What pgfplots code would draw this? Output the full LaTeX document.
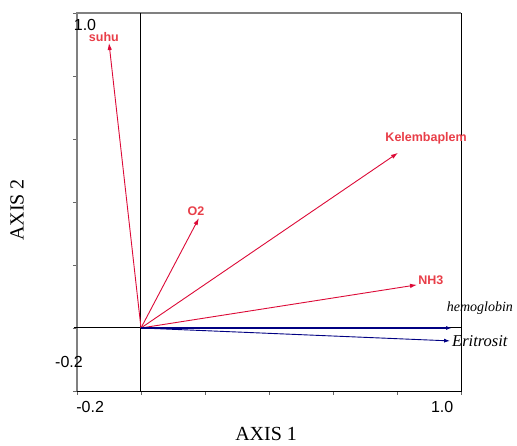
\documentclass[border=0pt]{standalone}
\usepackage{pgfplots}
\pgfplotsset{compat=1.18}
\usepackage{fontspec}
\setmainfont{Liberation Serif}
\setsansfont{Liberation Sans}
\usetikzlibrary{arrows.meta}

\definecolor{vecred}{RGB}{220,10,55}
\definecolor{labred}{RGB}{232,62,72}
\definecolor{vecblue}{RGB}{0,0,130}

\begin{document}
\begin{tikzpicture}
\useasboundingbox (-77pt,-55pt) rectangle (440pt,391pt);
\begin{axis}[
  at={(0,0)}, anchor=south west,
  scale only axis, width=384pt, height=378pt,
  xmin=-0.2, xmax=1.0, ymin=-0.2, ymax=1.0,
  xtick={-0.2,0,0.2,0.4,0.6,0.8,1.0},
  ytick={-0.2,0,0.2,0.4,0.6,0.8,1.0},
  xticklabels={}, yticklabels={},
  xtick pos=bottom, ytick pos=left,
  tick align=outside, major tick length=4pt,
  tick style={black!60, line width=0.8pt},
  axis line style={draw=none},
  clip=false,
]
  % frame
  \draw[black!50, line width=2.8pt] (rel axis cs:0,0) -- (rel axis cs:0,1) -- (rel axis cs:1,1);
  \draw[black, line width=0.8pt] (rel axis cs:0,0) -- (rel axis cs:1,0) -- (rel axis cs:1,1);
  % zero lines
  \draw[black, line width=1pt] (axis cs:-0.21,0) -- (axis cs:1.0,0);
  \draw[black, line width=1pt] (axis cs:0,-0.2) -- (axis cs:0,1.0);

  % environmental vectors
  \addplot[vecred, line width=0.9pt, -{Latex[length=7pt,width=4.5pt]}] coordinates {(0,0) (-0.100,0.905)};
  \addplot[vecred, line width=0.9pt, -{Latex[length=7pt,width=4.5pt]}] coordinates {(0,0) (0.181,0.349)};
  \addplot[vecred, line width=0.9pt, -{Latex[length=7pt,width=4.5pt]}] coordinates {(0,0) (0.803,0.556)};
  \addplot[vecred, line width=0.9pt, -{Latex[length=7pt,width=4.5pt]}] coordinates {(0,0) (0.8625,0.137)};
  % blood vectors
  \addplot[vecblue, line width=1.3pt, -{Latex[length=6pt,width=4pt]}] coordinates {(0,0) (0.972,0.0)};
  \addplot[vecblue, line width=0.9pt, -{Latex[length=6pt,width=4pt]}] coordinates {(0,0) (0.966,-0.041)};

  % vector labels
  \begin{scope}[labred, font=\sffamily\bfseries\fontsize{12.5}{14}\selectfont]
    \node at (axis cs:-0.116,0.924) {suhu};
    \node at (axis cs:0.172,0.371) {O2};
    \node at (axis cs:0.891,0.603) {Kelembaplem};
    \node at (axis cs:0.906,0.152) {NH3};
  \end{scope}
  \node[anchor=west, inner sep=0pt, font=\itshape\fontsize{14}{16}\selectfont] at (axis cs:0.955,0.063) {hemoglobin};
  \node[anchor=west, inner sep=0pt, font=\itshape\fontsize{16.5}{18}\selectfont] at (axis cs:0.972,-0.041) {Eritrosit};

  % tick labels
  \begin{scope}[font=\sffamily\fontsize{16}{18}\selectfont]
    \node at (axis cs:-0.175,0.962) {1.0};
    \node at (axis cs:-0.225,-0.108) {-0.2};
    \node at (axis cs:-0.159,-0.251) {-0.2};
    \node at (axis cs:0.941,-0.251) {1.0};
  \end{scope}

  % axis titles
  \node[font=\fontsize{20}{22}\selectfont] at (axis cs:0.391,-0.337) {AXIS 1};
  \node[rotate=90, font=\fontsize{20}{22}\selectfont] at (axis cs:-0.3875,0.375) {AXIS 2};
\end{axis}
\end{tikzpicture}
\end{document}
